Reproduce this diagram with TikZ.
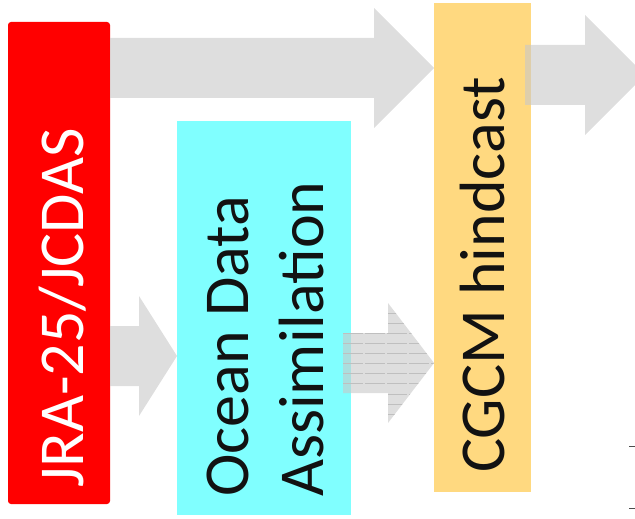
\documentclass[tikz,border=0pt]{standalone}
\usepackage{fontspec}
\setmainfont{Carlito}
\usetikzlibrary{calc}

\definecolor{jrared}{RGB}{255,0,0}
\definecolor{oceancyan}{RGB}{128,255,255}
\definecolor{cgcmyellow}{RGB}{255,217,128}
\definecolor{arrowgray}{RGB}{200,200,200}

\tikzset{
  box/.style={inner sep=0pt, outer sep=0pt, draw=none},
  boxtext/.style={inner sep=0pt, font=\fontsize{64}{75}\selectfont},
  arrowfill/.style={fill=arrowgray, fill opacity=0.6},
  stripe/.style={draw=black!25, line width=0.5pt, dash pattern=on 20pt off 2pt},
  tick/.style={draw=black!70, line width=1pt}
}

% block arrow: #2 tail, #3 tip, #4 head length
\newcommand{\fatarrow}[4][arrowfill]{%
  \path[#1] ($(#2)+(0,-30)$) -- ($(#3)+(-#4,-30)$) -- ($(#3)+(-#4,-60)$) -- (#3)
    -- ($(#3)+(-#4,60)$) -- ($(#3)+(-#4,30)$) -- ($(#2)+(0,30)$) -- cycle;}

\begin{document}
\begin{tikzpicture}[x=1pt, y=-1pt]

        \useasboundingbox (0,0) rectangle (635,519);

        % boxes
        \node[box, fill=jrared, rounded corners=3pt, minimum width=102pt, minimum height=482pt] (jrabox) at (59,263) {};
        \node[box, fill=oceancyan, minimum width=174pt, minimum height=394pt] (odabox) at (264,318) {};
        \node[box, fill=cgcmyellow, minimum width=97pt, minimum height=489pt] (cgcmbox) at (482.5,247.5) {};

        % arrow ends
        \coordinate (topstart) at (jrabox.east |- 0,68);
        \coordinate (topend) at (cgcmbox.west |- topstart);
        \coordinate (lowstart) at (jrabox.east |- 0,356);
        \coordinate (lowend) at (odabox.west |- lowstart);
        \coordinate (midstart) at ($(odabox.east |- 0,363)+(-8,0)$);
        \coordinate (midend) at (cgcmbox.west |- midstart);
        \coordinate (outstart) at ($(cgcmbox.east |- 0,75)+(-6,0)$);
        \coordinate (outend) at ($(outstart)+(120,0)$);

        \fatarrow{topstart}{topend}{60}
        \fatarrow{lowstart}{lowend}{38}
        \fatarrow{midstart}{midend}{46}
        \fatarrow{outstart}{outend}{60}

        \begin{scope}
          \fatarrow[clip]{midstart}{midend}{46}
          \foreach \k in {0,...,10}
            \draw[stripe] ($(midstart)+(0,-50+10.1*\k)$) -- ($(midend)+(0,-50+10.1*\k)$);
        \end{scope}

        % texts
        \node[boxtext, text=white, anchor=base, rotate=90] (jratext) at (83,308) {JRA-25/JCDAS};
        \node[boxtext, text=black!93, anchor=base west, align=left, rotate=90] (odatext) at (323,497) {Ocean Data\\Assimilation};
        \node[boxtext, text=black!93, anchor=base, rotate=90] (cgcmtext) at (504,275) {CGCM hindcast};

        \draw[tick] (629,446) -- (635,446);
        \draw[tick] (629,508) -- (635,508);

      \end{tikzpicture}
\end{document}
